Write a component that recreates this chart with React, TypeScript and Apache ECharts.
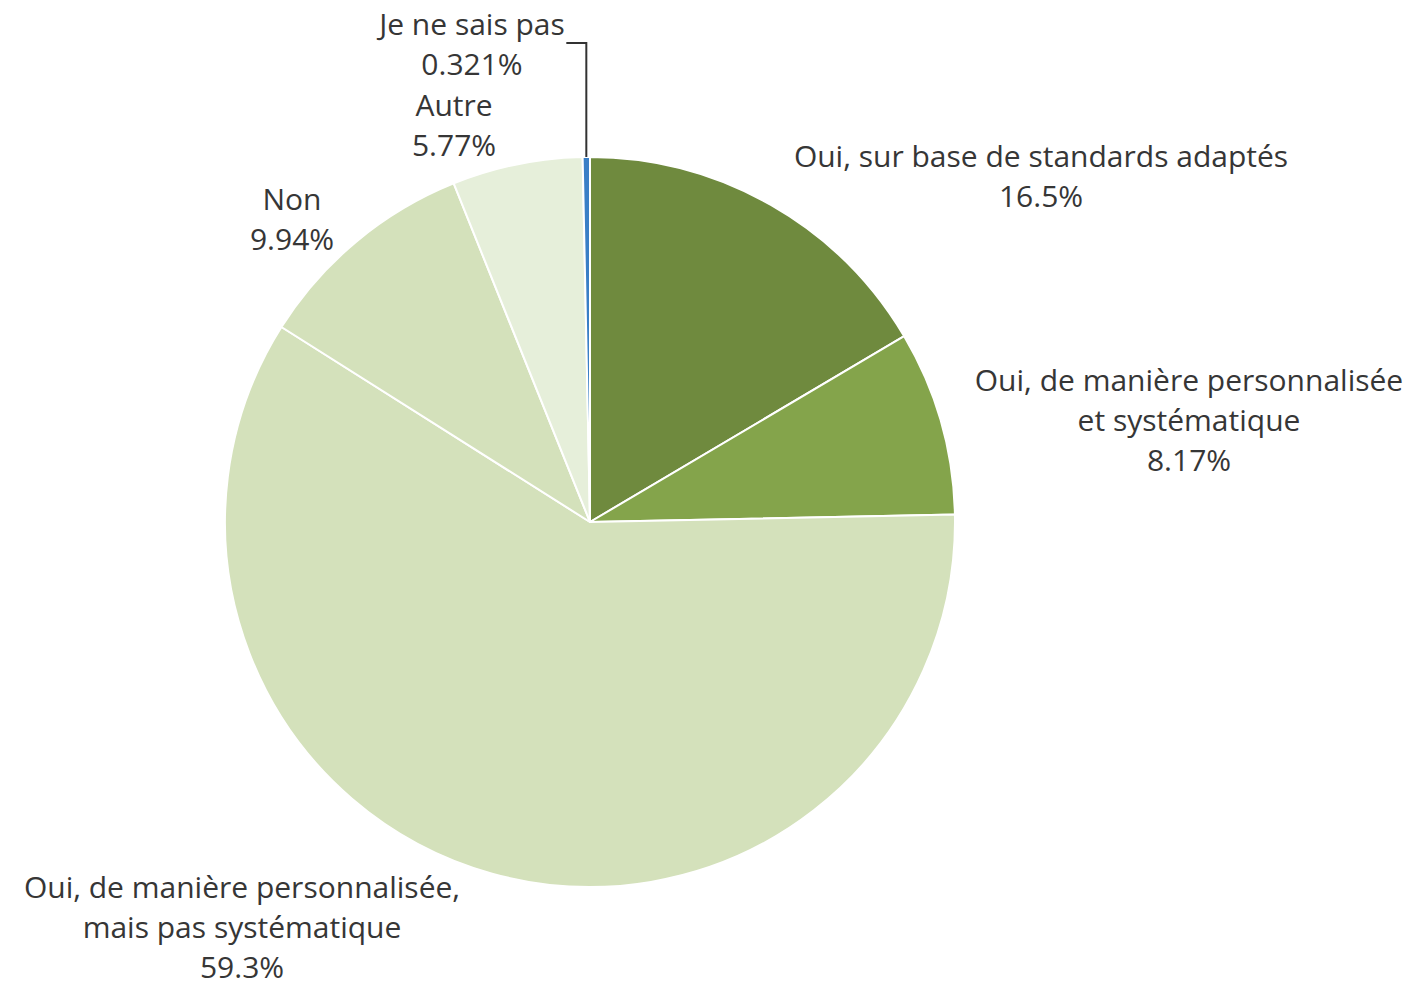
import React, { useEffect, useRef } from "react";
import * as echarts from "echarts";

const categories = [
  "Oui, sur base de standards adaptés",
  "Oui, de manière personnalisée\net systématique",
  "Oui, de manière personnalisée,\nmais pas systématique",
  "Non",
  "Autre",
  "Je ne sais pas",
];
const values = [16.5, 8.17, 59.3, 9.94, 5.77, 0.321];
const colors = ["#6f8a3e", "#84a44b", "#d4e1bb", "#d4e1bb", "#e6efda", "#3a7fc6"];
const labelPos: [number, number][] = [
  [1041, 175],
  [1189, 419],
  [242, 926],
  [292, 218],
  [454, 124],
  [472, 43],
];

const CX = 590;
const CY = 522;
const R = 365;

export default function App() {
  const ref = useRef<HTMLDivElement>(null);
  useEffect(() => {
    document.body.style.margin = "0";
    const chart = echarts.init(ref.current!, null, { renderer: "svg" });
    const total = values.reduce((a, b) => a + b, 0);
    const before = values.slice(0, 5).reduce((a, b) => a + b, 0);
    const midFrac = (before + values[5] / 2) / total;
    const ang = (90 - midFrac * 360) * (Math.PI / 180);
    const px = CX + R * Math.cos(ang);
    const py = CY - R * Math.sin(ang);
    chart.setOption({
      animation: false,
      backgroundColor: "#ffffff",
      graphic: [
        {
          type: "polyline",
          shape: {
            points: [
              [px, py],
              [px, labelPos[5][1]],
              [px - 20, labelPos[5][1]],
            ],
          },
          style: { stroke: "#333333", lineWidth: 2, fill: null },
          z: 10,
        },
      ],
      series: [
        {
          type: "pie",
          center: [CX, CY],
          radius: R,
          startAngle: 90,
          clockwise: true,
          data: categories.map((c, i) => ({
            name: c,
            value: values[i],
            itemStyle: { color: colors[i] },
          })),
          itemStyle: { borderColor: "#ffffff", borderWidth: 2 },
          label: {
            show: true,
            position: "inside",
            overflow: "none",
            formatter: (p: any) => `${p.name}\n${p.value}%`,
            fontFamily: "Open Sans",
            fontSize: 30,
            lineHeight: 40,
            color: "#363636",
            align: "center",
          },
          labelLine: { show: false },
          labelLayout: (p: any) => {
            const pos = labelPos[p.dataIndex];
            return {
              x: pos[0],
              y: pos[1],
              align: "center",
              verticalAlign: "middle",
            };
          },
          emphasis: { disabled: true },
        },
      ],
    });
    return () => chart.dispose();
  }, []);
  return <div ref={ref} style={{ width: 1419, height: 986 }} />;
}
